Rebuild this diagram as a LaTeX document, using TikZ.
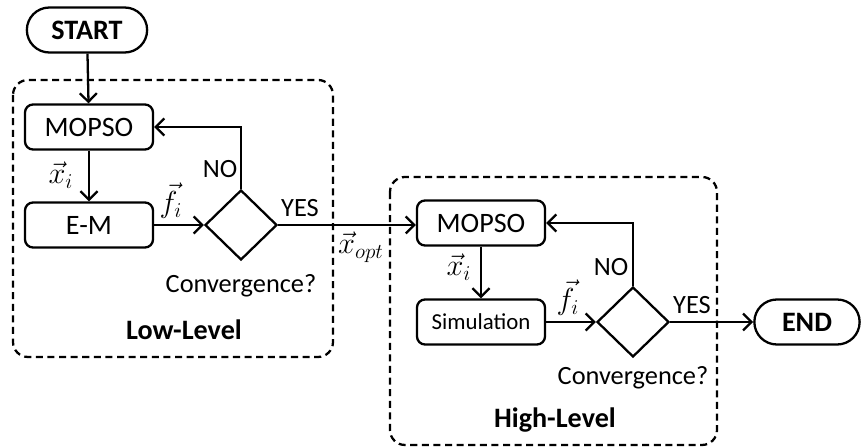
\documentclass[tikz,border=0pt]{standalone}
\usepackage{amsmath}
\usepackage{fontspec}
\setmainfont{Carlito}
\usepackage{tikz}
\usetikzlibrary{arrows.meta}
\usetikzlibrary{shapes.geometric}
\usetikzlibrary{shapes.misc}
\tikzset{>={Straight Barb[length=1.7mm,width=3.4mm]}}
\tikzset{
  proc/.style={draw, line width=1.3pt, rounded corners=0.16cm, minimum width=2.56cm, minimum height=0.9cm, font=\fontsize{16}{19}\selectfont},
  term/.style={draw, line width=1.3pt, rounded rectangle, minimum height=0.9cm, font=\fontsize{16}{19}\selectfont\bfseries},
  decide/.style={draw, line width=1.3pt, diamond, inner sep=0pt, minimum width=1.44cm, minimum height=1.4cm},
  lvlbox/.style={draw, line width=1.3pt, dash pattern=on 4pt off 2.6pt, rounded corners=0.3cm},
  lbl/.style={font=\fontsize{15}{18}\selectfont},
  vlbl/.style={font=\fontsize{18}{21}\selectfont},
  flow/.style={->, line width=1.3pt}
}

\begin{document}
\begin{tikzpicture}
  \useasboundingbox (0,0) rectangle (17.34,-8.96);
  % level boxes
  \draw[lvlbox] (0.26,-1.60) rectangle (6.66,-7.14);
  \draw[lvlbox] (7.80,-3.54) rectangle (14.34,-8.90);
  % low level
  \node[term, minimum width=2.64cm] (start) at (1.74,-0.60) {START};
  \node[proc] (mopsoL) at (1.78,-2.54) {MOPSO};
  \node[proc] (em) at (1.78,-4.50) {E-M};
  \node[decide] (convL) at (4.82,-4.50) {};
  \node[lbl] (convtxtL) at (4.82,-5.72) {Convergence?};
  \node[font=\fontsize{16}{19}\selectfont\bfseries] (lowlvl) at (3.68,-6.60) {Low-Level};
  % high level
  \node[proc] (mopsoH) at (9.62,-4.46) {MOPSO};
  \node[proc, font=\fontsize{13}{15}\selectfont] (sim) at (9.62,-6.44) {Simulation};
  \node[decide] (convH) at (12.66,-6.44) {};
  \node[lbl] (convtxtH) at (12.66,-7.56) {Convergence?};
  \node[font=\fontsize{16}{19}\selectfont\bfseries] (highlvl) at (11.10,-8.40) {High-Level};
  \node[term, minimum width=2.34cm] (finish) at (16.14,-6.44) {END};
  % labels
  \node[vlbl] (xL) at (1.22,-3.50) {$\vec{x}_i$};
  \node[vlbl] (fL) at (3.42,-4.02) {$\vec{f}_i$};
  \node[lbl] (noL) at (4.40,-3.38) {NO};
  \node[lbl] (yesL) at (6.00,-4.16) {YES};
  \node[vlbl] (xopt) at (7.22,-4.94) {$\vec{x}_{opt}$};
  \node[vlbl] (xH) at (9.18,-5.34) {$\vec{x}_i$};
  \node[vlbl] (fH) at (11.36,-5.96) {$\vec{f}_i$};
  \node[lbl] (noH) at (12.22,-5.34) {NO};
  \node[lbl] (yesH) at (13.84,-6.10) {YES};
  % connectors
  \draw[flow] (start) -- (mopsoL);
  \draw[flow] (mopsoL) -- (em);
  \draw[flow] (em) -- (convL);
  \draw[flow] (convL.north) |- (mopsoL.east);
  \draw[flow] (convL.east) -- (convL.east -| mopsoH.west);
  \draw[flow] (mopsoH) -- (sim);
  \draw[flow] (sim) -- (convH);
  \draw[flow] (convH.north) |- (mopsoH.east);
  \draw[flow] (convH.east) -- (finish.west);
\end{tikzpicture}
\end{document}
